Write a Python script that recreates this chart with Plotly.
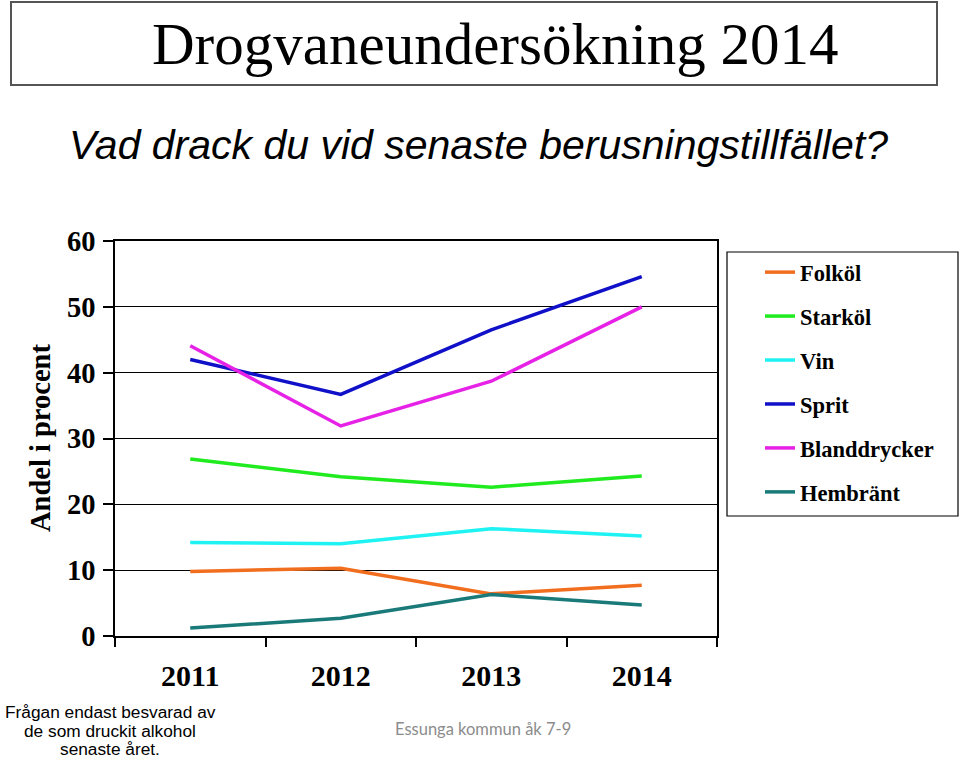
import plotly.graph_objects as go

years = ["2011", "2012", "2013", "2014"]
folkol = [9.8, 10.3, 6.4, 7.7]
starkol = [26.9, 24.2, 22.6, 24.3]
vin = [14.2, 14.0, 16.3, 15.2]
sprit = [42.0, 36.7, 46.5, 54.6]
blanddrycker = [44.1, 31.9, 38.7, 50.0]
hembrant = [1.2, 2.7, 6.3, 4.7]

series_names = ["Folköl", "Starköl", "Vin", "Sprit", "Blanddrycker", "Hembränt"]
series_values = [folkol, starkol, vin, sprit, blanddrycker, hembrant]
series_colors = ["#F26E1F", "#1FEB1F", "#1FF2F2", "#1010C8", "#E622E6", "#1A7A7A"]

footnote_lines = ["Frågan endast besvarad av", "de som druckit alkohol", "senaste året."]

W, H = 960, 758
L, R, T, B = 115, 717, 241, 636

def px(x):
    return (x - L) / (R - L)

def py(y):
    return (B - y) / (B - T)

fig = go.Figure()
for i, (name, vals, col) in enumerate(zip(series_names, series_values, series_colors)):
    fig.add_trace(go.Scatter(
        x=years, y=vals, name=name, mode="lines",
        line=dict(color=col, width=3.5),
        legendgroup=f"g{i}",
    ))

serif_bold = dict(family="Liberation Serif", color="black", weight="bold")

annotations = [
    dict(text="Drogvaneundersökning 2014", x=px(495), y=py(44), xref="paper", yref="paper",
         showarrow=False, xanchor="center", yanchor="middle",
         font=dict(family="Liberation Serif", size=59, color="black")),
    dict(text="<i>Vad drack du vid senaste berusningstillfället?</i>", x=px(478), y=py(145),
         xref="paper", yref="paper", showarrow=False, xanchor="center", yanchor="middle",
         font=dict(family="Liberation Sans", size=41, color="black")),
    dict(text="Andel i procent", x=px(40), y=py(438), xref="paper", yref="paper",
         showarrow=False, textangle=-90, xanchor="center", yanchor="middle",
         font=dict(size=28.5, **serif_bold)),
    dict(text="Essunga kommun åk 7-9", x=px(483), y=py(729), xref="paper", yref="paper",
         showarrow=False, xanchor="center", yanchor="middle",
         font=dict(family="Lato", size=16.5, color="#8C8C8C")),
]
for k, line in enumerate(footnote_lines):
    annotations.append(dict(
        text=line, x=px(110), y=py(712 + 18.5 * k), xref="paper", yref="paper",
        showarrow=False, xanchor="center", yanchor="middle", borderpad=0,
        font=dict(family="Liberation Sans", size=17.3, color="black")))

fig.update_layout(
    width=W, height=H,
    margin=dict(l=L, r=W - R, t=T, b=H - B, autoexpand=False),
    paper_bgcolor="white", plot_bgcolor="white",
    showlegend=True,
    legend=dict(
        x=px(760), y=py(251), xanchor="left", yanchor="top",
        font=dict(size=22.5, **serif_bold),
        bgcolor="rgba(0,0,0,0)", borderwidth=0,
        tracegroupgap=11.7, itemwidth=30,
    ),
    xaxis=dict(
        type="category", range=[-0.5, 3.5], tickson="boundaries", ticks="outside", ticklen=9,
        tickcolor="black", tickwidth=1.5,
        showline=True, linecolor="black", linewidth=1.5, mirror=True,
        showgrid=False, zeroline=False,
        tickfont=dict(size=30, **serif_bold),
        ticklabelstandoff=12,
    ),
    yaxis=dict(
        range=[0, 60], dtick=10, ticks="outside", ticklen=10,
        tickcolor="black", tickwidth=1.5,
        showline=True, linecolor="black", linewidth=1.5, mirror=True,
        showgrid=True, gridcolor="black", gridwidth=1.2, zeroline=False,
        tickfont=dict(size=28.5, **serif_bold),
        ticklabelstandoff=2,
    ),
    shapes=[
        dict(type="rect", xref="paper", yref="paper",
             x0=px(11), x1=px(937), y0=py(85), y1=py(2),
             line=dict(color="#555555", width=2), fillcolor="rgba(0,0,0,0)"),
        dict(type="rect", xref="paper", yref="paper",
             x0=px(727), x1=px(958), y0=py(516), y1=py(252),
             line=dict(color="black", width=1.2), fillcolor="rgba(0,0,0,0)"),
    ],
    annotations=annotations,
)

fig.write_html("out.html", config={"displayModeBar": False},
               post_script="document.body.style.margin='0';")
